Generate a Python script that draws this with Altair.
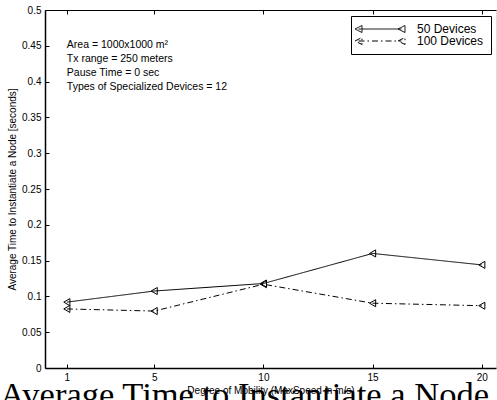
import altair as alt
import pandas as pd

# ---- data ----
speeds = [1, 5, 10, 15, 20]
dev50 = [0.092, 0.1075, 0.118, 0.160, 0.144]
dev100 = [0.0825, 0.0795, 0.117, 0.0905, 0.087]
series_names = ["50 Devices", "100 Devices"]
x_ticks = [1, 5, 10, 15, 20]
y_ticks = [0, 0.05, 0.1, 0.15, 0.2, 0.25, 0.3, 0.35, 0.4, 0.45, 0.5]
notes = ["Area = 1000x1000 m\u00b2", "Tx range = 250 meters",
         "Pause Time = 0 sec", "Types of Specialized Devices = 12"]
note_x = [1, 1, 1, 1]
note_y = [0.451, 0.4316, 0.412, 0.392]

rows = []
for s, vals in zip(series_names, [dev50, dev100]):
    for x, v in zip(speeds, vals):
        rows.append({"speed": x, "time": v, "series": s})
df = pd.DataFrame(rows)
notes_df = pd.DataFrame({"x": note_x, "y": note_y, "label": notes})

W, H = 451, 358
SANS = "Liberation Sans"
xscale = alt.Scale(domain=[0, 20.65], nice=False, zero=False)
yscale = alt.Scale(domain=[0, 0.5], nice=False, zero=False)

# legend sample: line with open left-pointing triangles at both ends
# (symbol unit = 5.5 px, sample half-length = 21.5 px)
u = 5.5
hl = 21.5 / u
t = 3.5 / u
LEG_PATH = (f"M{-hl:.3f},0L{hl:.3f},0"
            f"M{-hl - t:.3f},0L{-hl + t:.3f},{-t:.3f}L{-hl + t:.3f},{t:.3f}Z"
            f"M{hl - t:.3f},0L{hl + t:.3f},{-t:.3f}L{hl + t:.3f},{t:.3f}Z")

line = alt.Chart(df).mark_line(color="black", strokeWidth=1).encode(
    x=alt.X("speed:Q", scale=xscale,
            axis=alt.Axis(orient="bottom", values=x_ticks, ticks=False, grid=False,
                          domainColor="black", domainWidth=1.5,
                          labelFont=SANS, labelFontSize=10, labelColor="black",
                          labelPadding=4,
                          title="Degree of Mobility (MaxSpeed in m/s)",
                          titleFont=SANS, titleFontSize=10, titleFontWeight="normal",
                          titleColor="black", titlePadding=3)),
    y=alt.Y("time:Q", scale=yscale,
            axis=alt.Axis(orient="left", values=y_ticks, format="~g", ticks=False,
                          grid=False, domainColor="black", domainWidth=1.5,
                          labelFont=SANS, labelFontSize=10, labelColor="black",
                          labelPadding=4,
                          title="Average Time to Instantiate a Node [seconds]",
                          titleFont=SANS, titleFontSize=10, titleFontWeight="normal",
                          titleColor="black", titlePadding=4)),
    strokeDash=alt.StrokeDash(
        "series:N",
        scale=alt.Scale(domain=series_names, range=[[1, 0], [6, 3, 1.5, 3]]),
        legend=alt.Legend(orient="none", legendX=306, legendY=6, title=None,
                          symbolType=LEG_PATH, symbolSize=u * u * 4,
                          symbolOffset=16,
                          symbolStrokeColor="black", symbolStrokeWidth=1,
                          symbolFillColor="transparent",
                          labelFont=SANS, labelFontSize=12, labelColor="black",
                          labelOffset=31, strokeColor="black", fillColor="white",
                          padding=7, rowPadding=0)),
)

points = alt.Chart(df).mark_point(shape="triangle-left", filled=False, color="black",
                                  size=50, strokeWidth=1, opacity=1).encode(
    x=alt.X("speed:Q", scale=xscale,
            axis=alt.Axis(orient="top", offset=-H, values=x_ticks, labels=False,
                          domain=False, ticks=True, tickSize=4, tickColor="black",
                          grid=False, title=None)),
    y=alt.Y("time:Q", scale=yscale,
            axis=alt.Axis(orient="right", offset=-W, values=y_ticks, labels=False,
                          domain=False, ticks=True, tickSize=4, tickColor="black",
                          grid=False, title=None)),
)

topframe = alt.Chart(df).mark_point(opacity=0).encode(
    x=alt.X("speed:Q", scale=xscale,
            axis=alt.Axis(orient="bottom", offset=-H, values=x_ticks, labels=False,
                          domain=True, domainColor="black", domainWidth=1,
                          ticks=True, tickSize=4, tickColor="black",
                          grid=False, title=None)),
    y=alt.Y("time:Q", scale=yscale, axis=None),
)

texts = alt.Chart(notes_df).mark_text(align="left", baseline="middle", font=SANS,
                                       fontSize=10.5, color="black").encode(
    x=alt.X("x:Q", scale=xscale, axis=None),
    y=alt.Y("y:Q", scale=yscale, axis=None),
    text="label:N",
)

chart = alt.layer(line, points, topframe, texts).resolve_axis(
    x="independent", y="independent"
).properties(
    width=W, height=H,
    autosize=alt.AutoSizeParams(type="none"),
    padding={"left": 45, "top": 10, "right": 1, "bottom": 32},
    title=alt.Title("Average Time to Instantiate a Node", orient="bottom",
                    anchor="start", frame="group", dx=-45, offset=11,
                    baseline="alphabetic", font="Liberation Serif", fontSize=34.5,
                    fontWeight="normal", color="black"),
).configure_view(stroke=None).configure(background="white", font=SANS)

chart.save("out.html", embed_options={"renderer": "svg", "actions": False})
